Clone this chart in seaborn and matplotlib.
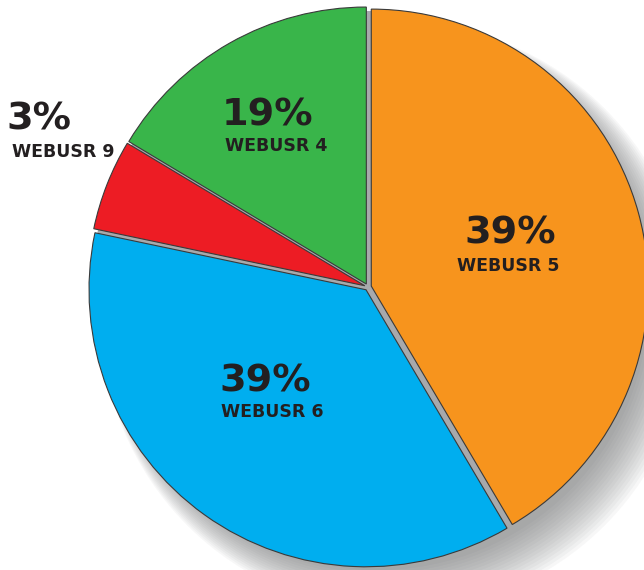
import numpy as np
import matplotlib.pyplot as plt
import seaborn as sns
from matplotlib.patches import Circle

usuarios = ['WEBUSR 5', 'WEBUSR 6', 'WEBUSR 9', 'WEBUSR 4']
valores = [41.5, 36.8, 5.3, 16.4]
etiquetas_pct = ['39%', '39%', '3%', '19%']
colores = ['#F7941D', '#00AEEF', '#ED1C24', '#39B54A']

sns.set_theme(style="white")
plt.rcParams['font.family'] = ['DejaVu Sans']

fig = plt.figure(figsize=(6.44, 5.70), dpi=100)
ax = fig.add_axes([0, 0, 1, 1])

centro = (368, 283)
radio = 277

# sombra difusa abajo a la derecha
for k in range(16):
    ax.add_patch(Circle((centro[0] + 10 + k * 1.2, centro[1] - 12 - k * 1.2), radio - 6 + k * 1.6,
                        color='#6d6e71', alpha=0.05, lw=0, zorder=0))
ax.add_patch(Circle(centro, radio - 1, color='#a7a9ac', lw=0, zorder=1))

wedges, _ = ax.pie(
    valores,
    colors=colores,
    startangle=90,
    counterclock=False,
    center=centro,
    radius=radio,
    explode=[3.4] * 4,
    wedgeprops=dict(edgecolor='#3a3a3a', linewidth=0.8),
    frame=True,
)
for w in wedges:
    w.set_zorder(2)
ax.set_xlim(0, 644)
ax.set_ylim(0, 570)
ax.set_aspect('equal')
ax.axis('off')

# posiciones de texto en pixeles (y hacia arriba)
pos_pct = [(510, 570 - 233), (265, 570 - 381), (39, 570 - 120), (268, 570 - 115)]
pos_lab = [(508, 570 - 266), (272, 570 - 412), (63, 570 - 152), (276, 570 - 146)]
color_txt = '#231F20'
for i in range(len(usuarios)):
    ax.text(pos_pct[i][0], pos_pct[i][1], etiquetas_pct[i], fontsize=27.5, fontweight='bold',
            color=color_txt, ha='center', va='center', zorder=5)
    ax.text(pos_lab[i][0], pos_lab[i][1], usuarios[i], fontsize=12.5, fontweight='bold',
            color=color_txt, ha='center', va='center', zorder=5)

fig.savefig('out.png', dpi=100, facecolor='white')
